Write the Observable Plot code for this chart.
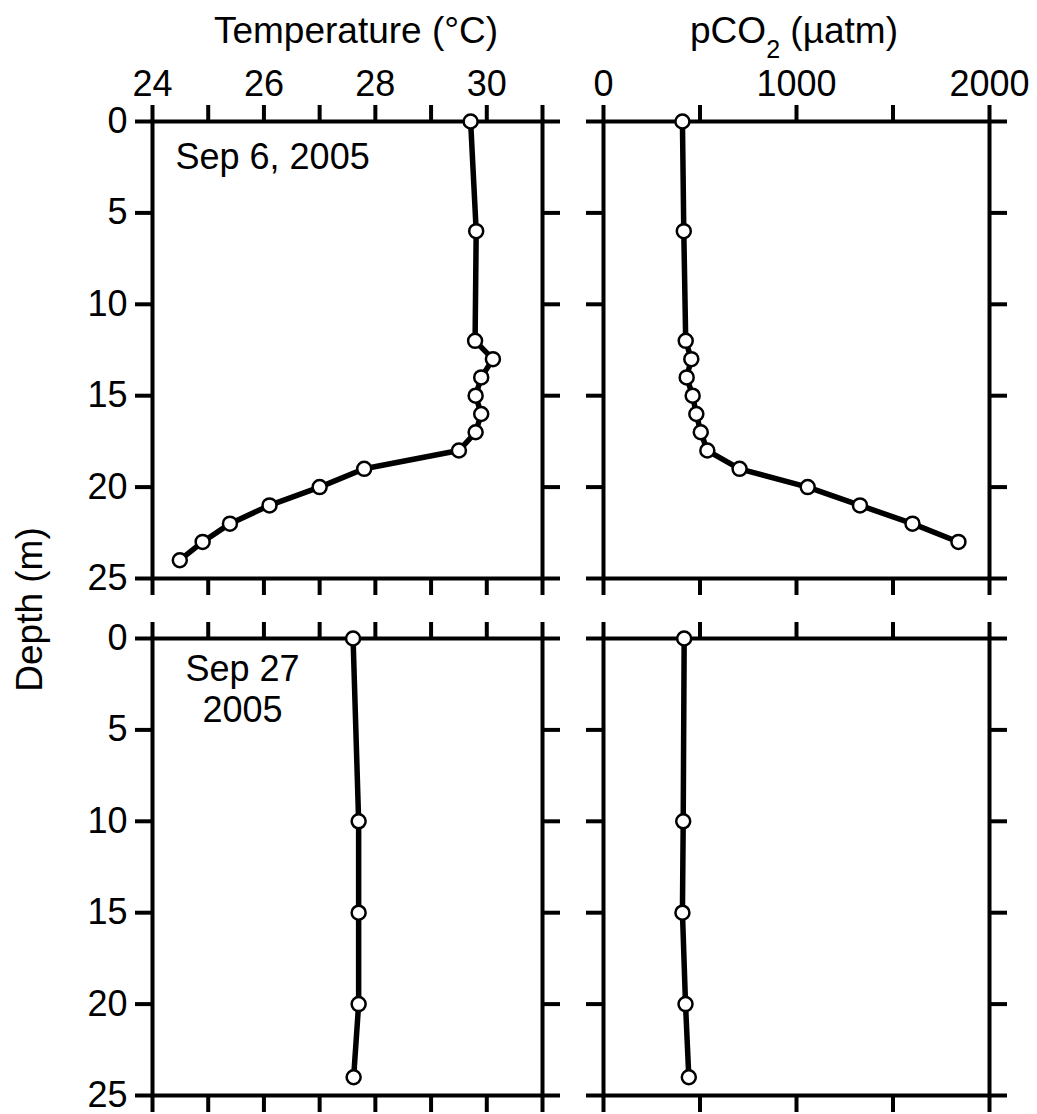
<!DOCTYPE html>
<html><head><meta charset="utf-8">
<script src="https://cdn.jsdelivr.net/npm/d3@7"></script>
<script src="https://cdn.jsdelivr.net/npm/@observablehq/plot@0.6"></script>
<style>
html,body{margin:0;padding:0;background:#fff;overflow:hidden}
#chart{position:relative;width:1037px;height:1114px;font-family:"Liberation Sans",Arial,sans-serif;color:#000;overflow:hidden}
.lbl{position:absolute;font-size:37px;line-height:37px;white-space:nowrap;text-align:center}
</style></head><body>
<div id="chart">
 <div class="lbl" style="left:156px;top:12px;width:400px">Temperature (°C)</div>
 <div class="lbl" style="left:594px;top:12px;width:400px">pCO<span style="font-size:25px;position:relative;top:15px">2</span> (µatm)</div>
 <div class="lbl" style="left:-121px;top:590.5px;width:300px;transform:rotate(-90deg)">Depth (m)</div>
</div>
<script>
// ---- data ----
const depthSep6Temp = [0, 6, 12, 13, 14, 15, 16, 17, 18, 19, 20, 21, 22, 23, 24];
const tempSep6      = [29.71, 29.81, 29.79, 30.11, 29.90, 29.80, 29.90, 29.80, 29.50, 27.80, 27.00, 26.10, 25.39, 24.90, 24.49];
const depthSep6CO2  = [0, 6, 12, 13, 14, 15, 16, 17, 18, 19, 20, 21, 22, 23];
const pco2Sep6      = [409, 416, 426, 455, 431, 462, 481, 504, 538, 705, 1058, 1329, 1601, 1839];
const depthSep27    = [0, 10, 15, 20, 24];
const tempSep27     = [27.60, 27.70, 27.70, 27.70, 27.61];
const pco2Sep27     = [418, 413, 409, 425, 442];

const tempTicks   = [24, 25, 26, 27, 28, 29, 30, 31];
const tempLabels  = [24, 26, 28, 30];
const pco2Ticks   = [0, 500, 1000, 1500, 2000];
const pco2Labels  = [0, 1000, 2000];
const depthTicks  = [0, 5, 10, 15, 20, 25];
const noteSep6    = "Sep 6, 2005";
const noteSep27   = "Sep 27\n2005";

// ---- layout ----
const FONT = '"Liberation Sans", Arial, sans-serif';
const mL = 150, mR = 30, mT = 110, mB = 18;
const frameH = 457;
const host = document.getElementById("chart");

function panel({depths, values, xDomain, xTicks, xLabels, showTop, showLeft, frameLeft, frameW, frameTop, note}) {
  const data = depths.map((d, i) => ({depth: d, v: values[i]}));
  const fmtX = d => (showTop && xLabels.includes(d)) ? String(d) : "";
  const marks = [
    Plot.frame({stroke: "black", strokeWidth: 4}),
    Plot.axisX({anchor: "top", ticks: xTicks, tickSize: 17, tickPadding: 9, strokeWidth: 4, tickFormat: fmtX, label: null, fontSize: 36}),
    Plot.axisX({anchor: "bottom", ticks: xTicks, tickSize: 17, strokeWidth: 4, tickFormat: () => "", label: null}),
    Plot.axisY({anchor: "left", ticks: depthTicks, tickSize: 17, tickPadding: 8, strokeWidth: 4, tickFormat: d => showLeft ? String(d) : "", label: null, fontSize: 36}),
    Plot.axisY({anchor: "right", ticks: depthTicks, tickSize: 17, strokeWidth: 4, tickFormat: () => "", label: null}),
    Plot.line(data, {x: "v", y: "depth", stroke: "black", strokeWidth: 5.5}),
    Plot.dot(data, {x: "v", y: "depth", r: 7, fill: "white", stroke: "black", strokeWidth: 2.5})
  ];
  if (note) marks.push(Plot.text([note.text], {text: d => d, frameAnchor: "top-left", textAnchor: note.anchor, lineAnchor: "bottom", lineHeight: 1.12, dx: note.dx, dy: note.dy, fontSize: 36, fill: "black"}));
  const svg = Plot.plot({
    width: mL + frameW + mR,
    height: mT + frameH + mB,
    marginLeft: mL, marginRight: mR, marginTop: mT, marginBottom: mB,
    x: {domain: xDomain},
    y: {domain: [0, 25], reverse: true},
    style: {fontFamily: FONT, fontSize: "36px", background: "transparent", color: "black", overflow: "visible"},
    marks
  });
  svg.style.position = "absolute";
  svg.style.left = (frameLeft - mL) + "px";
  svg.style.top = (frameTop - mT) + "px";
  host.appendChild(svg);
}
panel({depths: depthSep6Temp, values: tempSep6, xDomain: [24, 31], xTicks: tempTicks, xLabels: tempLabels, showTop: true, showLeft: true, frameLeft: 152, frameW: 390, frameTop: 121, note: {text: noteSep6, anchor: "start", dx: 23, dy: 47}});
panel({depths: depthSep6CO2, values: pco2Sep6, xDomain: [0, 2000], xTicks: pco2Ticks, xLabels: pco2Labels, showTop: true, showLeft: false, frameLeft: 603, frameW: 386, frameTop: 121});
panel({depths: depthSep27, values: tempSep27, xDomain: [24, 31], xTicks: tempTicks, xLabels: tempLabels, showTop: false, showLeft: true, frameLeft: 152, frameW: 390, frameTop: 638, note: {text: noteSep27, anchor: "middle", dx: 90, dy: 83}});
panel({depths: depthSep27, values: pco2Sep27, xDomain: [0, 2000], xTicks: pco2Ticks, xLabels: pco2Labels, showTop: false, showLeft: false, frameLeft: 603, frameW: 386, frameTop: 638});
</script>
</body></html>
